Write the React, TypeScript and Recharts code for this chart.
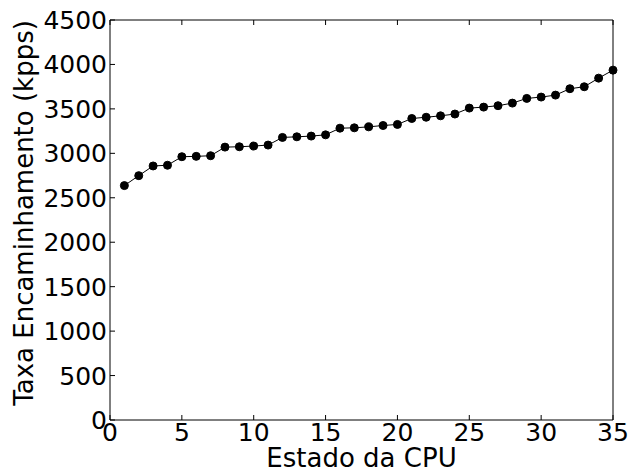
import React from "react";
import { LineChart, Line, XAxis, YAxis, Label } from "recharts";

// CPU state index (x) and forwarding rate in kpps (y)
const cpuStates = [
  1, 2, 3, 4, 5, 6, 7, 8, 9, 10, 11, 12, 13, 14, 15, 16, 17, 18, 19, 20, 21, 22,
  23, 24, 25, 26, 27, 28, 29, 30, 31, 32, 33, 34, 35,
];
const rates = [
  2637, 2749, 2858, 2866, 2962, 2966, 2973, 3070, 3074, 3082, 3093, 3179, 3186,
  3194, 3208, 3283, 3287, 3298, 3313, 3325, 3392, 3406, 3422, 3442, 3509, 3520,
  3536, 3565, 3618, 3633, 3655, 3727, 3749, 3846, 3936,
];
const xTicks = [0, 5, 10, 15, 20, 25, 30, 35];
const yTicks = [0, 500, 1000, 1500, 2000, 2500, 3000, 3500, 4000, 4500];

const data = cpuStates.map((s, i) => ({ state: s, rate: rates[i] }));

const FONT = "'DejaVu Sans', sans-serif";
const FS = 25; // tick labels
const LFS = 26; // axis titles
const TICK = 5; // matplotlib-style inward ticks

function LeftTick(props: any) {
  const { x, y, payload } = props;
  // x is axis - 8 (tickMargin), ticks drawn inward
  return (
    <g>
      <line x1={x + 8} x2={x + 8 + TICK} y1={y} y2={y} stroke="#000" />
      <text x={x + 5} y={y} dy={9} textAnchor="end" fontSize={FS} fontFamily={FONT} fill="#000">
        {payload.value}
      </text>
    </g>
  );
}

function RightTick(props: any) {
  const { x, y } = props;
  return <line x1={x} x2={x - TICK} y1={y} y2={y} stroke="#000" />;
}

function BottomTick(props: any) {
  const { x, y, payload } = props;
  return (
    <g>
      <line x1={x} x2={x} y1={y} y2={y - TICK} stroke="#000" />
      <text x={x} y={y + 21} textAnchor="middle" fontSize={FS} fontFamily={FONT} fill="#000">
        {payload.value}
      </text>
    </g>
  );
}

function TopTick(props: any) {
  const { x, y } = props;
  return <line x1={x} x2={x} y1={y} y2={y + TICK} stroke="#000" />;
}

export default function App() {
  return (
    <div style={{ position: "absolute", left: 0, top: 0, background: "#fff" }}>
      <LineChart width={632} height={472} data={data} margin={{ top: 0, right: 0, bottom: 0, left: 0 }}>
        <XAxis
          dataKey="state"
          type="number"
          domain={[0, 35]}
          ticks={xTicks}
          interval={0}
          height={52}
          tickSize={0}
          tickMargin={0}
          tickLine={false}
          axisLine={{ stroke: "#000" }}
          tick={<BottomTick />}
        >
          <Label
            content={(p: any) => {
              const vb = p.viewBox;
              return (
                <text
                  x={vb.x + vb.width / 2}
                  y={vb.y + vb.height - 5}
                  textAnchor="middle"
                  fontSize={LFS}
                  fontFamily={FONT}
                  fill="#000"
                >
                  Estado da CPU
                </text>
              );
            }}
          />
        </XAxis>
        <XAxis
          xAxisId="top"
          orientation="top"
          dataKey="state"
          type="number"
          domain={[0, 35]}
          ticks={xTicks}
          interval={0}
          height={20}
          tickSize={0}
          tickMargin={0}
          tickLine={false}
          axisLine={{ stroke: "#000" }}
          tick={<TopTick />}
        />
        <YAxis
          type="number"
          domain={[0, 4500]}
          ticks={yTicks}
          interval={0}
          width={110}
          tickSize={0}
          tickMargin={8}
          tickLine={false}
          axisLine={{ stroke: "#000" }}
          tick={<LeftTick />}
        >
          <Label
            content={(p: any) => {
              const vb = p.viewBox;
              const cy = vb.y + vb.height / 2 - 7;
              return (
                <text
                  x={33}
                  y={cy}
                  transform={`rotate(-90, 33, ${cy})`}
                  textAnchor="middle"
                  fontSize={LFS}
                  fontFamily={FONT}
                  fill="#000"
                >
                  Taxa Encaminhamento (kpps)
                </text>
              );
            }}
          />
        </YAxis>
        <YAxis
          yAxisId="right"
          orientation="right"
          type="number"
          domain={[0, 4500]}
          ticks={yTicks}
          interval={0}
          width={19}
          tickSize={0}
          tickMargin={0}
          tickLine={false}
          axisLine={{ stroke: "#000" }}
          tick={<RightTick />}
        />
        <Line
          dataKey="rate"
          stroke="#000"
          strokeWidth={1}
          dot={{ r: 4, fill: "#000", stroke: "#000", strokeWidth: 1 }}
          isAnimationActive={false}
        />
      </LineChart>
    </div>
  );
}
